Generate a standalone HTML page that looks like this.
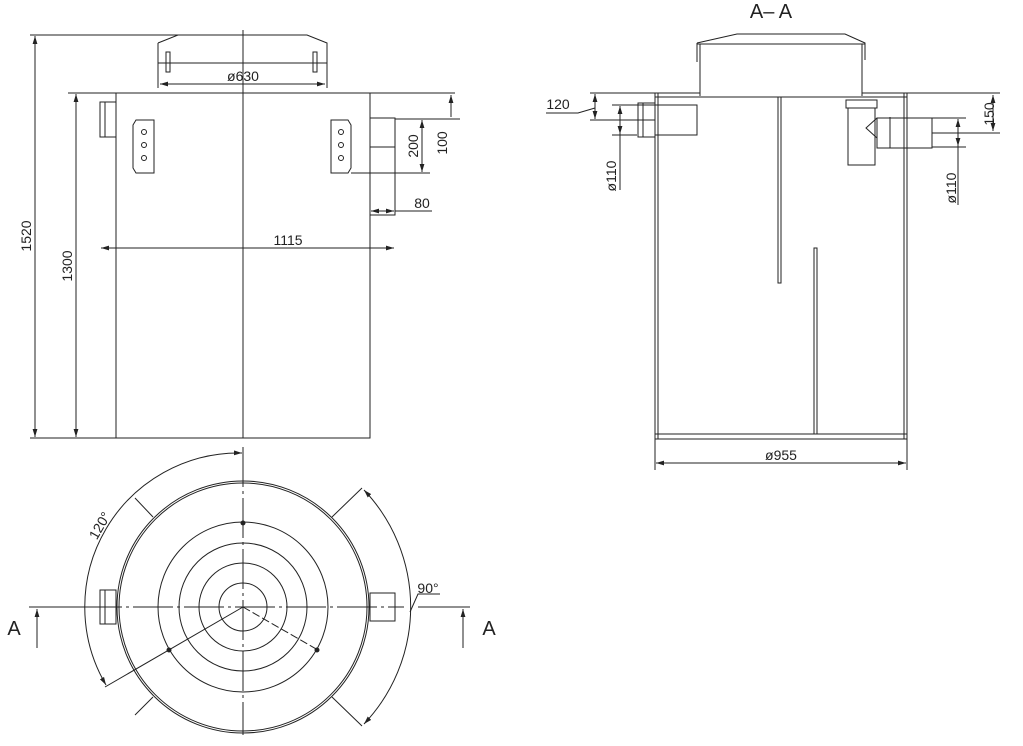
<!DOCTYPE html>
<html><head><meta charset="utf-8"><style>html,body{margin:0;padding:0;background:#fff}svg{display:block}</style></head><body>
<svg width="1023" height="746" viewBox="0 0 1023 746" xmlns="http://www.w3.org/2000/svg" font-family="Liberation Sans, sans-serif" fill="none" stroke="#222" stroke-width="1">
<defs><marker id="a" viewBox="0 0 10 6" refX="10" refY="3" markerWidth="8" markerHeight="5" orient="auto-start-reverse"><path d="M0,0L10,3L0,6z" fill="#222" stroke="none"/></marker></defs>
<!-- FRONT VIEW -->
<line x1="30" y1="35" x2="180" y2="35"/>
<path d="M158,43 L178,35 L307,35 L327,43 L327,73 M158,43 L158,73 M158,73 L158,88 M327,73 L327,88"/>
<line x1="243" y1="30" x2="243" y2="438"/>
<line x1="158" y1="63" x2="327" y2="63"/>
<line x1="160" y1="84" x2="325" y2="84" marker-start="url(#a)" marker-end="url(#a)"/>
<rect x="166" y="52" width="4" height="20"/><rect x="313" y="52" width="4" height="20"/>
<text x="243" y="81" font-size="14" text-anchor="middle" fill="#222" stroke="none">ø630</text>
<path d="M68,93 L455,93"/>
<rect x="116" y="93" width="254" height="345"/>
<rect x="100" y="102" width="16" height="35"/><line x1="105" y1="102" x2="105" y2="137"/>
<path d="M136,120 L154,120 L154,173 L136,173 L133,168 L133,125 Z"/>
<circle cx="144" cy="132" r="2.5"/><circle cx="144" cy="145" r="2.5"/><circle cx="144" cy="158" r="2.5"/>
<path d="M331,120 L348,120 L351,125 L351,168 L348,173 L331,173 Z"/>
<circle cx="341" cy="132" r="2.5"/><circle cx="341" cy="145" r="2.5"/><circle cx="341" cy="158" r="2.5"/>
<rect x="370" y="118" width="25" height="97"/><line x1="370" y1="147" x2="395" y2="147"/>
<line x1="351" y1="173" x2="430" y2="173"/><line x1="395" y1="119" x2="460" y2="119"/>
<line x1="422" y1="120" x2="422" y2="172" marker-start="url(#a)" marker-end="url(#a)"/>
<line x1="451" y1="95" x2="451" y2="117" marker-start="url(#a)"/>
<text transform="translate(418,146) rotate(-90)" font-size="14" text-anchor="middle" fill="#222" stroke="none">200</text>
<text transform="translate(447,143) rotate(-90)" font-size="14" text-anchor="middle" fill="#222" stroke="none">100</text>
<line x1="371" y1="211" x2="394" y2="211" marker-start="url(#a)" marker-end="url(#a)"/><line x1="395" y1="211" x2="432" y2="211"/>
<text x="422" y="208" font-size="14" text-anchor="middle" fill="#222" stroke="none">80</text>
<line x1="101" y1="248" x2="394" y2="248" marker-start="url(#a)" marker-end="url(#a)"/>
<text x="288" y="245" font-size="14" text-anchor="middle" fill="#222" stroke="none">1115</text>
<line x1="30" y1="438" x2="116" y2="438"/>
<line x1="35" y1="36" x2="35" y2="437" marker-start="url(#a)" marker-end="url(#a)"/>
<line x1="76" y1="94" x2="76" y2="437" marker-start="url(#a)" marker-end="url(#a)"/>
<text transform="translate(31,236) rotate(-90)" font-size="14" text-anchor="middle" fill="#222" stroke="none">1520</text>
<text transform="translate(72,266) rotate(-90)" font-size="14" text-anchor="middle" fill="#222" stroke="none">1300</text>
<!-- SECTION A-A -->
<text x="771" y="18" font-size="20" text-anchor="middle" fill="#222" stroke="none">A– A</text>
<path d="M697,43 L737,34 L845,34 L865,43 L865,60 M697,43 L697,62"/>
<line x1="697" y1="44" x2="865" y2="44"/>
<line x1="700" y1="44" x2="700" y2="96"/><line x1="862" y1="44" x2="862" y2="96"/>
<line x1="655" y1="97" x2="907" y2="97"/>
<line x1="655" y1="93" x2="700" y2="93"/><line x1="862" y1="93" x2="907" y2="93"/>
<rect x="655" y="93" width="3" height="346"/><rect x="904" y="93" width="3" height="346"/>
<rect x="655" y="434" width="252" height="5"/>
<rect x="778" y="97" width="3" height="186"/><rect x="814" y="248" width="3" height="186"/>
<rect x="655" y="105" width="42" height="30"/><rect x="638" y="103" width="17" height="34"/><line x1="643" y1="103" x2="643" y2="137"/>
<rect x="846" y="100" width="31" height="8"/><rect x="848" y="108" width="27" height="57"/>
<path d="M877,118 L866,128 L877,138"/>
<rect x="877" y="118" width="55" height="30"/><line x1="890" y1="117" x2="890" y2="148"/>
<line x1="907" y1="93" x2="1000" y2="93"/><line x1="932" y1="133" x2="1000" y2="133"/>
<line x1="993" y1="95" x2="993" y2="131" marker-start="url(#a)" marker-end="url(#a)"/>
<text transform="translate(994,114) rotate(-90)" font-size="14" text-anchor="middle" fill="#222" stroke="none">150</text>
<line x1="590" y1="93" x2="655" y2="93"/><line x1="590" y1="120" x2="655" y2="120"/>
<line x1="595" y1="94" x2="595" y2="119" marker-start="url(#a)" marker-end="url(#a)"/>
<path d="M546,113 L578,113 L595,108"/>
<text x="558" y="109" font-size="14" text-anchor="middle" fill="#222" stroke="none">120</text>
<line x1="612" y1="105" x2="655" y2="105"/><line x1="612" y1="135" x2="637" y2="135"/>
<line x1="620" y1="106" x2="620" y2="190" marker-start="url(#a)"/>
<line x1="620" y1="106" x2="620" y2="134" marker-end="url(#a)"/>
<text transform="translate(616,176) rotate(-90)" font-size="14" text-anchor="middle" fill="#222" stroke="none">ø110</text>
<line x1="932" y1="118" x2="966" y2="118"/><line x1="932" y1="147" x2="966" y2="147"/>
<line x1="958" y1="119" x2="958" y2="205" marker-start="url(#a)"/>
<line x1="958" y1="119" x2="958" y2="146" marker-end="url(#a)"/>
<text transform="translate(956,188) rotate(-90)" font-size="14" text-anchor="middle" fill="#222" stroke="none">ø110</text>
<line x1="655" y1="439" x2="655" y2="470"/><line x1="907" y1="439" x2="907" y2="470"/>
<line x1="656" y1="463" x2="906" y2="463" marker-start="url(#a)" marker-end="url(#a)"/>
<text x="781" y="460" font-size="14" text-anchor="middle" fill="#222" stroke="none">ø955</text>
<!-- PLAN -->
<circle cx="243" cy="607" r="126"/><circle cx="243" cy="607" r="124"/>
<circle cx="243" cy="607" r="85"/><circle cx="243" cy="607" r="64"/><circle cx="243" cy="607" r="44"/><circle cx="243" cy="607" r="24"/>
<line x1="243" y1="447" x2="243" y2="735" stroke-dasharray="40,4,3,4"/>
<line x1="82" y1="607" x2="404" y2="607" stroke-dasharray="40,4,3,4"/>
<line x1="29" y1="607" x2="82" y2="607"/><line x1="418" y1="607" x2="470" y2="607"/>
<line x1="37" y1="648" x2="37" y2="609" marker-end="url(#a)"/><line x1="463" y1="648" x2="463" y2="609" marker-end="url(#a)"/>
<text x="14" y="635" font-size="20" text-anchor="middle" fill="#222" stroke="none">A</text>
<text x="489" y="635" font-size="20" text-anchor="middle" fill="#222" stroke="none">A</text>
<rect x="100" y="590" width="16" height="34"/><line x1="105" y1="590" x2="105" y2="624"/>
<rect x="370" y="593" width="25" height="28"/>
<line x1="243" y1="607" x2="105" y2="687"/><line x1="243" y1="607" x2="318" y2="650" stroke-dasharray="8,3"/>
<path d="M106,685 A154 154 0 0 1 242,453" marker-start="url(#a)" marker-end="url(#a)"/>
<path d="M364,490 A170 170 0 0 1 364,724" marker-start="url(#a)" marker-end="url(#a)"/>
<line x1="362" y1="488" x2="332" y2="517"/><line x1="362" y1="726" x2="332" y2="697"/>
<line x1="135" y1="498" x2="153" y2="517"/><line x1="135" y1="715" x2="153" y2="697"/>
<path d="M410,612 L418,594 L440,594"/>
<text x="428" y="593" font-size="14" text-anchor="middle" fill="#222" stroke="none">90°</text>
<text transform="translate(104,528) rotate(-60)" font-size="14" text-anchor="middle" fill="#222" stroke="none">120°</text>
<circle cx="243" cy="523" r="2" fill="#222"/><circle cx="169" cy="650" r="2" fill="#222"/><circle cx="317" cy="650" r="2" fill="#222"/>
</svg>
</body></html>
